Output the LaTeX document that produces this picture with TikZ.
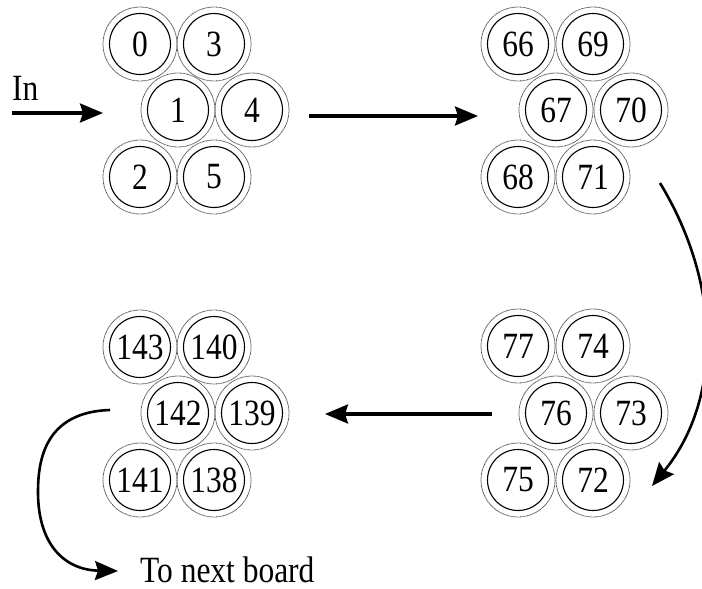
\documentclass[tikz,border=0pt]{standalone}
\usepackage{fontspec}
\setmainfont{Liberation Serif}[FakeStretch=0.85]
\usetikzlibrary{arrows.meta}
\begin{document}
\begin{tikzpicture}[x=1pt,y=-1pt,
  cell/.style={circle, draw, line width=1.1pt, minimum size=61pt, inner sep=0pt, font=\fontsize{37}{37}\selectfont},
  ring/.style={draw=black!70, line width=0.8pt, dash pattern=on 0.7pt off 0.5pt},
  flow/.style={line width=3.2pt, -{Stealth[length=23pt,width=19pt,inset=3pt]}},
  curveflow/.style={line width=2.6pt, -{Stealth[length=23pt,width=19pt,inset=3pt]}},
  lbl/.style={anchor=base west, inner sep=0pt, font=\fontsize{37}{37}\selectfont}]
\useasboundingbox (0,0) rectangle (702,589);
% group 1
\node[cell] (c0) at (140,44) {0};
\node[cell] (c3) at (214,44) {3};
\node[cell] (c1) at (178,110) {1};
\node[cell] (c4) at (252,110) {4};
\node[cell] (c2) at (140,177) {2};
\node[cell] (c5) at (214,177) {5};
% group 2
\node[cell] (c66) at (518,44) {66};
\node[cell] (c69) at (593,44) {69};
\node[cell] (c67) at (556,110) {67};
\node[cell] (c70) at (631,110) {70};
\node[cell] (c68) at (518,177) {68};
\node[cell] (c71) at (593,177) {71};
% group 3
\node[cell] (c77) at (518,346) {77};
\node[cell] (c74) at (593,346) {74};
\node[cell] (c76) at (556,413) {76};
\node[cell] (c73) at (631,413) {73};
\node[cell] (c75) at (518,480) {75};
\node[cell] (c72) at (593,480) {72};
% group 4
\node[cell] (c143) at (140,347) {143};
\node[cell] (c140) at (214,347) {140};
\node[cell] (c142) at (178,413) {142};
\node[cell] (c139) at (252,413) {139};
\node[cell] (c141) at (140,480) {141};
\node[cell] (c138) at (214,480) {138};
\foreach \n in {0,1,2,3,4,5,66,67,68,69,70,71,72,73,74,75,76,77,138,139,140,141,142,143}
  \draw[ring] (c\n.center) circle[radius=37pt];
% labels
\node[lbl] (inlbl) at (12,100) {In};
\node[lbl] (nextlbl) at (140,582) {To next board};
% connectors
\coordinate (inS) at (12,113);
\coordinate (inE) at (103,113);
\coordinate (aS) at (309,116);
\coordinate (aE) at (478,116);
\coordinate (bS) at (660,183);
\coordinate (bE) at (652,486);
\coordinate (cS) at (492,414);
\coordinate (cE) at (325,414);
\coordinate (dS) at (110,410);
\coordinate (dM) at (38,492);
\coordinate (dE) at (118,571);
\draw[flow] (inS) -- (inE);
\draw[flow] (aS) -- (aE);
\draw[curveflow] (bS) .. controls (722,285) and (722,400) .. (bE);
\draw[flow] (cS) -- (cE);
\draw[curveflow] (dS) .. controls (45,412) and (38,460) .. (dM) .. controls (38,545) and (65,570) .. (dE);
\end{tikzpicture}
\end{document}
